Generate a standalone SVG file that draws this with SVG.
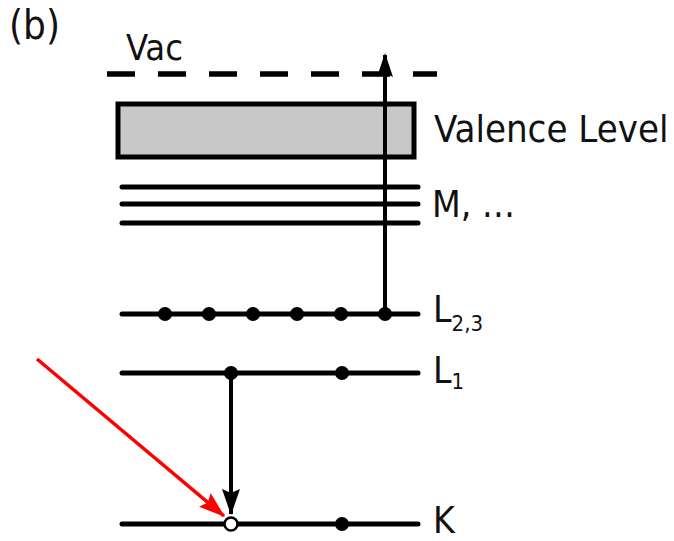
<svg xmlns="http://www.w3.org/2000/svg" width="674" height="541" viewBox="0 0 674 541">
<style>
text{font-family:"DejaVu Sans Condensed","DejaVu Sans",sans-serif;font-stretch:condensed;font-size:37px;fill:#111}
.lvl{stroke:#000;stroke-width:5;stroke-linecap:round;fill:none}
.dot{fill:#000}
.sub{font-size:22px}
</style>
<defs>
<marker id="ah" markerWidth="24" markerHeight="16" refX="22" refY="8" orient="auto" markerUnits="userSpaceOnUse"><path d="M0,0 L24,8 L0,16 L4,8 Z" fill="#000"/></marker>
<marker id="ahd" markerWidth="26" markerHeight="18" refX="25" refY="9" orient="auto" markerUnits="userSpaceOnUse"><path d="M0,0 L26,9 L0,18 L4,9 Z" fill="#000"/></marker>
<marker id="ahr" markerWidth="26" markerHeight="18" refX="25" refY="9" orient="auto" markerUnits="userSpaceOnUse"><path d="M0,0 L26,9 L0,18 L4,9 Z" fill="#f00"/></marker>
</defs>
<rect width="674" height="541" fill="#fff"/>
<text x="9" y="39" style="font-size:40px">(b)</text>
<g id="vac">
<line x1="107" y1="74" x2="437" y2="74" stroke="#000" stroke-width="5.5" stroke-dasharray="28,23"/>
<text x="126" y="60" style="font-size:36px">Vac</text>
</g>
<g id="valence">
<rect x="118" y="104" width="296" height="53" fill="#c8c8c8" stroke="#000" stroke-width="5"/>
<text x="434" y="142" style="font-size:38px">Valence Level</text>
</g>
<g id="m">
<line class="lvl" x1="122" y1="187" x2="418" y2="187"/>
<line class="lvl" x1="122" y1="204" x2="418" y2="204"/>
<line class="lvl" x1="122" y1="223" x2="418" y2="223"/>
<text x="432" y="217">M, …</text>
</g>
<g id="l23">
<line class="lvl" x1="122" y1="314" x2="418" y2="314"/>
<circle class="dot" cx="165" cy="314" r="7"/>
<circle class="dot" cx="209" cy="314" r="7"/>
<circle class="dot" cx="253" cy="314" r="7"/>
<circle class="dot" cx="297" cy="314" r="7"/>
<circle class="dot" cx="341" cy="314" r="7"/>
<circle class="dot" cx="385" cy="314" r="7"/>
<text x="433" y="322">L<tspan class="sub" dy="9">2,3</tspan></text>
</g>
<g id="l1">
<line class="lvl" x1="122" y1="373" x2="418" y2="373"/>
<circle class="dot" cx="231" cy="373" r="7"/>
<circle class="dot" cx="342" cy="373" r="7"/>
<text x="433" y="383">L<tspan class="sub" dy="6">1</tspan></text>
</g>
<g id="k">
<line class="lvl" x1="122" y1="524" x2="418" y2="524"/>
<circle cx="231" cy="524" r="6.5" fill="#fff" stroke="#000" stroke-width="2.5"/>
<circle class="dot" cx="342" cy="524" r="7"/>
<text x="433" y="533">K</text>
</g>
<g id="connectors">
<line x1="385" y1="314" x2="385" y2="55" stroke="#000" stroke-width="4" marker-end="url(#ah)"/>
<line x1="231" y1="373" x2="231" y2="514" stroke="#000" stroke-width="4" marker-end="url(#ahd)"/>
<line x1="37" y1="359" x2="224" y2="516" stroke="#f00" stroke-width="3.5" marker-end="url(#ahr)"/>
</g>
</svg>
